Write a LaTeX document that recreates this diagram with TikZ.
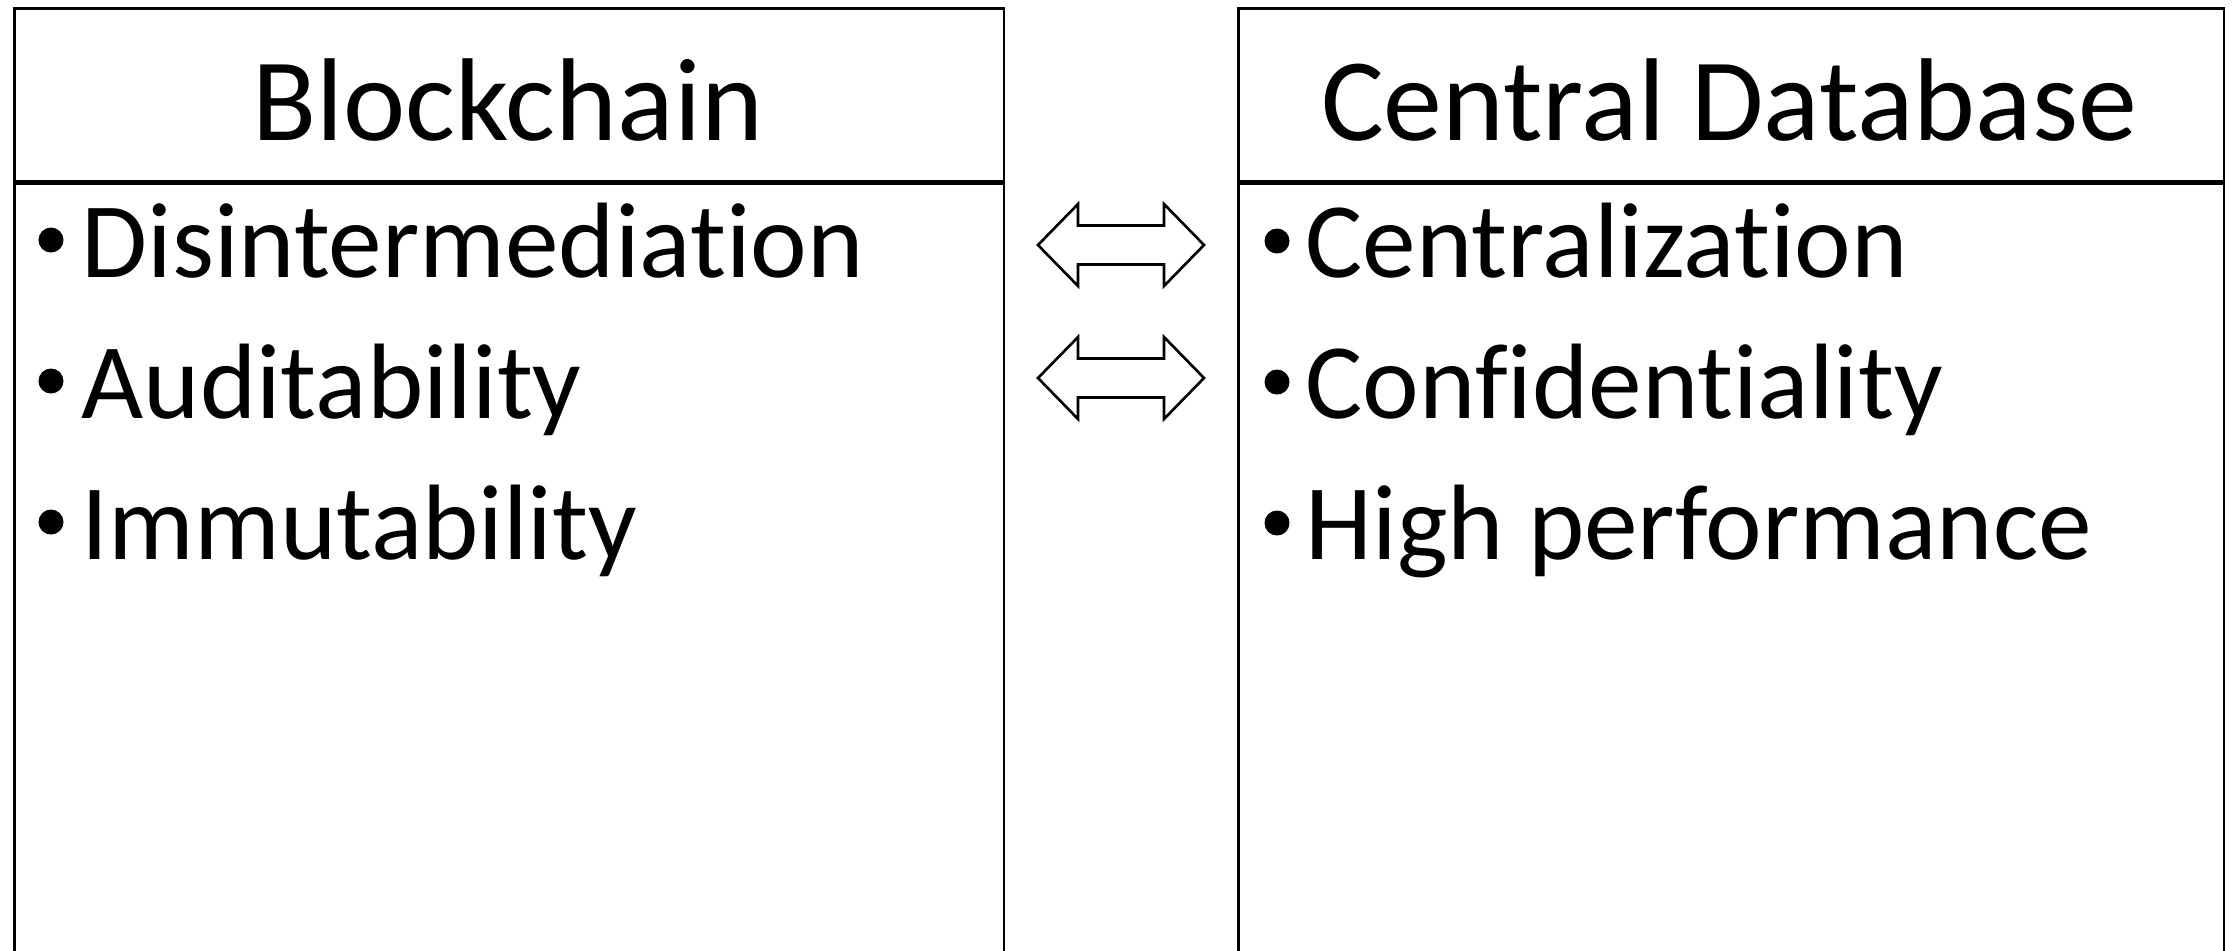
\documentclass[tikz,border=0pt]{standalone}
\usepackage{fontspec}
\setmainfont{Carlito}[Ligatures={NoCommon,NoRare,NoContextual}]

\begin{document}
\begin{tikzpicture}[x=0.01cm,y=-0.01cm,
  hdr/.style={font=\fontsize{33.5}{40}\selectfont, anchor=base},
  item/.style={font=\fontsize{30.5}{36}\selectfont, anchor=base west, inner sep=0pt},
  dot/.style={circle, fill=black, inner sep=0pt, minimum size=0.25cm},
  colbox/.style={draw, line width=0.75pt, inner sep=0pt, anchor=north west},
  dblarrow/.pic={
    \draw[line width=0.75pt, line join=miter] (-83,0) -- (-43,-41) -- (-43,-19.5) -- (43,-19.5)
      -- (43,-41) -- (83,0) -- (43,41) -- (43,19.5) -- (-43,19.5) -- (-43,41) -- cycle;
  },
]
\useasboundingbox (0,0) rectangle (2233,950);
\clip (0,0) rectangle (2233,950);

% two columns, open at the bottom
\node[colbox, minimum width=9.89cm, minimum height=1.73cm] (bchead) at (13,7) {};
\node[colbox, minimum width=9.89cm, minimum height=8cm] (bcbody) at (bchead.south west) {};
\node[colbox, minimum width=9.85cm, minimum height=1.73cm] (dbhead) at (1237,7) {};
\node[colbox, minimum width=9.85cm, minimum height=8cm] (dbbody) at (dbhead.south west) {};

\node[hdr] (bctitle) at (507.5,140) {Blockchain};
\node[hdr] (dbtitle) at (1729,140) {Central Database};

% bullet lists
\foreach \t [count=\i] in {Disintermediation,Auditability,Immutability} {
  \node[dot] (bcdot\i) at (51,240+141*\i-141) {};
  \node[item] (bcitem\i) at (81,277+141*\i-141) {\t};
}
\foreach \t [count=\i] in {Centralization,Confidentiality,High performance} {
  \node[dot] (dbdot\i) at (1277,241+141*\i-141) {};
  \node[item] (dbitem\i) at (1305,277+141*\i-141) {\t};
}

% block arrows between the columns
\pic (arr1) at (1121,245) {dblarrow};
\pic (arr2) at (1121,378) {dblarrow};
\end{tikzpicture}
\end{document}
